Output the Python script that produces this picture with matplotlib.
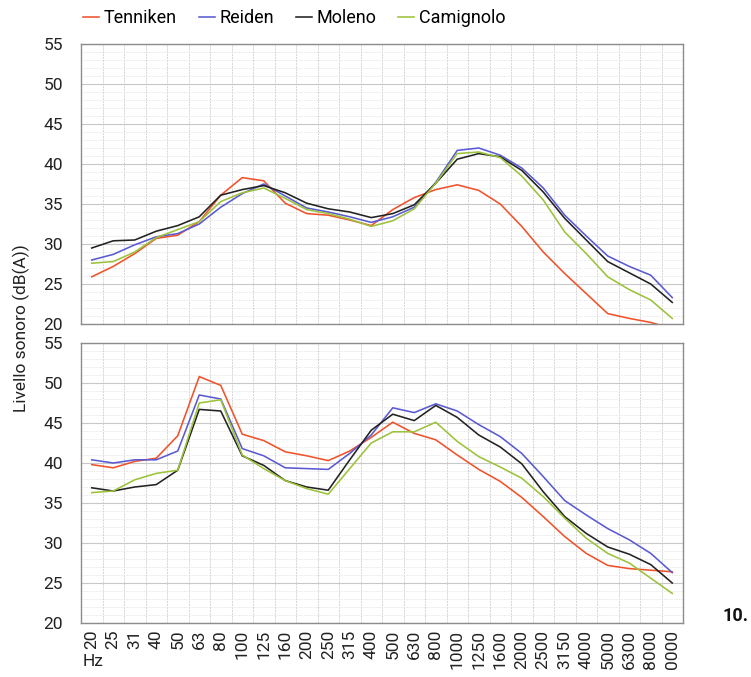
import matplotlib
matplotlib.use("Agg")
import matplotlib.pyplot as plt
from matplotlib.ticker import MultipleLocator, FixedLocator
import numpy as np

plt.rcParams['font.family'] = ['Roboto', 'DejaVu Sans']

# 1/3-octave band centre frequencies (Hz)
freq_labels = ["20", "25", "31", "40", "50", "63", "80", "100", "125", "160",
               "200", "250", "315", "400", "500", "630", "800", "1000", "1250",
               "1600", "2000", "2500", "3150", "4000", "5000", "6300", "8000",
               "0000"]

series_names = ["Tenniken", "Reiden", "Moleno", "Camignolo"]
series_colors = ["#f0522a", "#5a5ad2", "#222222", "#9cc23a"]

# Upper panel, dB(A)
top_tenniken = [25.9, 27.2, 28.8, 30.7, 31.1, 32.8, 36.1, 38.3, 37.9, 35.1,
                33.8, 33.6, 33.0, 32.3, 34.3, 35.8, 36.8, 37.4, 36.7, 35.0,
                32.2, 29.0, 26.3, 23.8, 21.3, 20.7, 20.2, 19.4]
top_reiden = [28.0, 28.7, 29.9, 30.9, 31.3, 32.5, 34.6, 36.3, 37.5, 36.0,
              34.5, 34.0, 33.4, 32.7, 33.4, 34.6, 37.7, 41.7, 42.0, 41.1,
              39.5, 37.0, 33.6, 31.0, 28.5, 27.2, 26.1, 23.3]
top_moleno = [29.5, 30.4, 30.5, 31.6, 32.3, 33.4, 36.1, 36.8, 37.3, 36.4,
              35.1, 34.4, 34.0, 33.3, 33.8, 34.9, 37.6, 40.6, 41.3, 40.9,
              39.2, 36.5, 33.2, 30.5, 27.8, 26.4, 25.0, 22.7]
top_camignolo = [27.6, 27.8, 29.0, 30.8, 31.8, 32.8, 35.3, 36.4, 37.0, 35.7,
                 34.3, 33.8, 33.1, 32.2, 32.9, 34.4, 37.6, 41.3, 41.5, 40.8,
                 38.5, 35.5, 31.5, 28.8, 25.9, 24.3, 23.0, 20.7]

# Lower panel, dB(A)
bot_tenniken = [39.8, 39.4, 40.2, 40.6, 43.4, 50.8, 49.7, 43.6, 42.8, 41.4,
                40.9, 40.3, 41.5, 43.2, 45.1, 43.7, 42.9, 41.0, 39.2, 37.7,
                35.7, 33.3, 30.8, 28.7, 27.2, 26.8, 26.6, 26.4]
bot_reiden = [40.4, 40.0, 40.4, 40.4, 41.5, 48.5, 48.0, 41.8, 40.9, 39.4,
              39.3, 39.2, 41.2, 43.5, 46.9, 46.3, 47.4, 46.5, 44.8, 43.3,
              41.2, 38.3, 35.3, 33.5, 31.8, 30.4, 28.7, 26.3]
bot_moleno = [36.9, 36.5, 37.0, 37.3, 39.1, 46.7, 46.5, 40.9, 39.7, 37.8,
              37.0, 36.6, 40.4, 44.1, 46.1, 45.3, 47.2, 45.7, 43.5, 42.0,
              39.9, 36.4, 33.3, 31.2, 29.5, 28.6, 27.3, 25.0]
bot_camignolo = [36.3, 36.5, 37.9, 38.7, 39.1, 47.5, 47.9, 41.0, 39.3, 37.8,
                 36.8, 36.1, 39.3, 42.5, 43.9, 43.9, 45.1, 42.7, 40.8, 39.5,
                 38.1, 35.8, 33.1, 30.6, 28.7, 27.5, 25.6, 23.7]

top_series = [top_tenniken, top_reiden, top_moleno, top_camignolo]
bot_series = [bot_tenniken, bot_reiden, bot_moleno, bot_camignolo]

fig = plt.figure(figsize=(7.51, 6.77), dpi=100)
fig.patch.set_facecolor("white")

left, width, height = 81 / 751, 602 / 751, 280 / 677
ax_top = fig.add_axes([left, 1 - 324 / 677, width, height])
ax_bot = fig.add_axes([left, 1 - 623 / 677, width, height])

x = np.arange(len(freq_labels))


def style_axes(ax):
    ax.set_xlim(-0.5, len(freq_labels) - 0.5)
    ax.set_ylim(20, 55)
    ax.yaxis.set_major_locator(MultipleLocator(5))
    ax.yaxis.set_minor_locator(MultipleLocator(1))
    ax.xaxis.set_major_locator(FixedLocator(x))
    ax.xaxis.set_minor_locator(FixedLocator(x[:-1] + 0.5))
    ax.grid(which="major", axis="y", color="#c8c8c8", linewidth=0.8)
    ax.grid(which="minor", axis="y", color="#e2e2e2", linewidth=0.6,
            linestyle=(0, (1.5, 1.5)))
    ax.grid(which="minor", axis="x", color="#d4d4d4", linewidth=0.7,
            linestyle=(0, (2, 1)))
    ax.set_axisbelow(True)
    for sp in ax.spines.values():
        sp.set_color("#8c8c8c")
        sp.set_linewidth(1.0)
    ax.tick_params(axis="both", which="both", length=0)
    ax.tick_params(axis="y", labelsize=12.5, colors="#222222", pad=13)


for ax, data in ((ax_top, top_series), (ax_bot, bot_series)):
    style_axes(ax)
    for vals, name, col in zip(data, series_names, series_colors):
        ax.plot(x, vals, color=col, linewidth=1.15, label=name)

ax_top.set_xticklabels([])
ax_bot.set_xticks(x)
ax_bot.set_xticklabels(freq_labels, rotation=90, fontsize=12.5,
                       color="#222222")
ax_bot.tick_params(axis="x", pad=5)

fig.text(0.029, 1 - 328 / 677, "Livello sonoro (dB(A))", rotation=90,
         fontsize=12.5, va="center", ha="center", color="#222222")
fig.text(83 / 751, 1 - 661 / 677, "Hz", fontsize=12.5, va="center",
         ha="left", color="#222222")
fig.text(723 / 751, 1 - 616 / 677, "10.", fontsize=13, fontweight="bold",
         va="center", ha="left", color="#111111")

handles, labels = ax_top.get_legend_handles_labels()
fig.legend(handles, labels, loc="center left", ncol=4, frameon=False,
           bbox_to_anchor=(76 / 751, 1 - 18 / 677), fontsize=13,
           handlelength=0.9, handletextpad=0.25, columnspacing=1.2,
           borderaxespad=0)

fig.savefig("out.png", dpi=100, facecolor="white")
